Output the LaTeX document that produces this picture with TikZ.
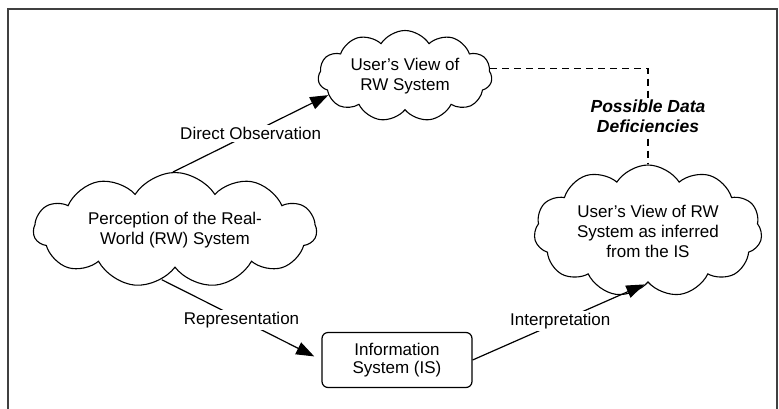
\documentclass[tikz,border=0pt]{standalone}
\usepackage{fontspec}
\setmainfont{Liberation Sans}
\usetikzlibrary{shapes.symbols,arrows.meta}
\begin{document}
\begin{tikzpicture}[x=1pt,y=-1pt,
  cloudnode/.style={cloud, cloud puffs=11, cloud puff arc=115, cloud ignores aspect, draw, line width=1.1pt, inner sep=0pt, align=center, font=\fontsize{17}{20}\selectfont},
  boxnode/.style={draw, rounded corners=6pt, line width=1.2pt, minimum width=150pt, minimum height=55pt, align=center, inner sep=0pt, font=\fontsize{17}{18.5}\selectfont},
  arr/.style={line width=1.2pt, -{Triangle[length=18pt,width=13pt]}},
  lbl/.style={fill=white, inner sep=2pt, font=\fontsize{17}{20}\selectfont},
  dlbl/.style={fill=white, inner sep=2pt, align=center, font=\fontsize{17.5}{20}\selectfont\bfseries\itshape},
  framestyle/.style={line width=2pt, draw=black!75},
  dashline/.style={line width=1.5pt, dash pattern=on 7pt off 5pt}
]
\useasboundingbox (0,0) rectangle (779,408);
\draw[framestyle] (8,410) -- (8,9) -- (777,9) -- (777,410);

\node[cloudnode, minimum width=174pt, minimum height=91pt] (top) at (405,76) {User's View of\\RW System};
\node[cloudnode, minimum width=283pt, minimum height=115pt] (left) at (175,230) {Perception of the Real-\\World (RW) System};
\node[cloudnode, minimum width=228pt, minimum height=132pt] (right) at (648,231) {User's View of RW\\System as inferred\\from the IS};
\node[boxnode] (is) at (397,360) {Information\\System (IS)};

\draw[arr] (left.92) -- node[lbl]{Direct Observation} (top.194);
\draw[arr, shorten >=8pt] (left.255) -- node[lbl]{Representation} (is.west);
\draw[arr, shorten >=4pt] (is.east) -- node[lbl]{Interpretation} (right.south);
\draw[dashline] (top.5) -| node[dlbl, pos=0.75]{Possible Data\\Deficiencies} (right.north);
\end{tikzpicture}
\end{document}
